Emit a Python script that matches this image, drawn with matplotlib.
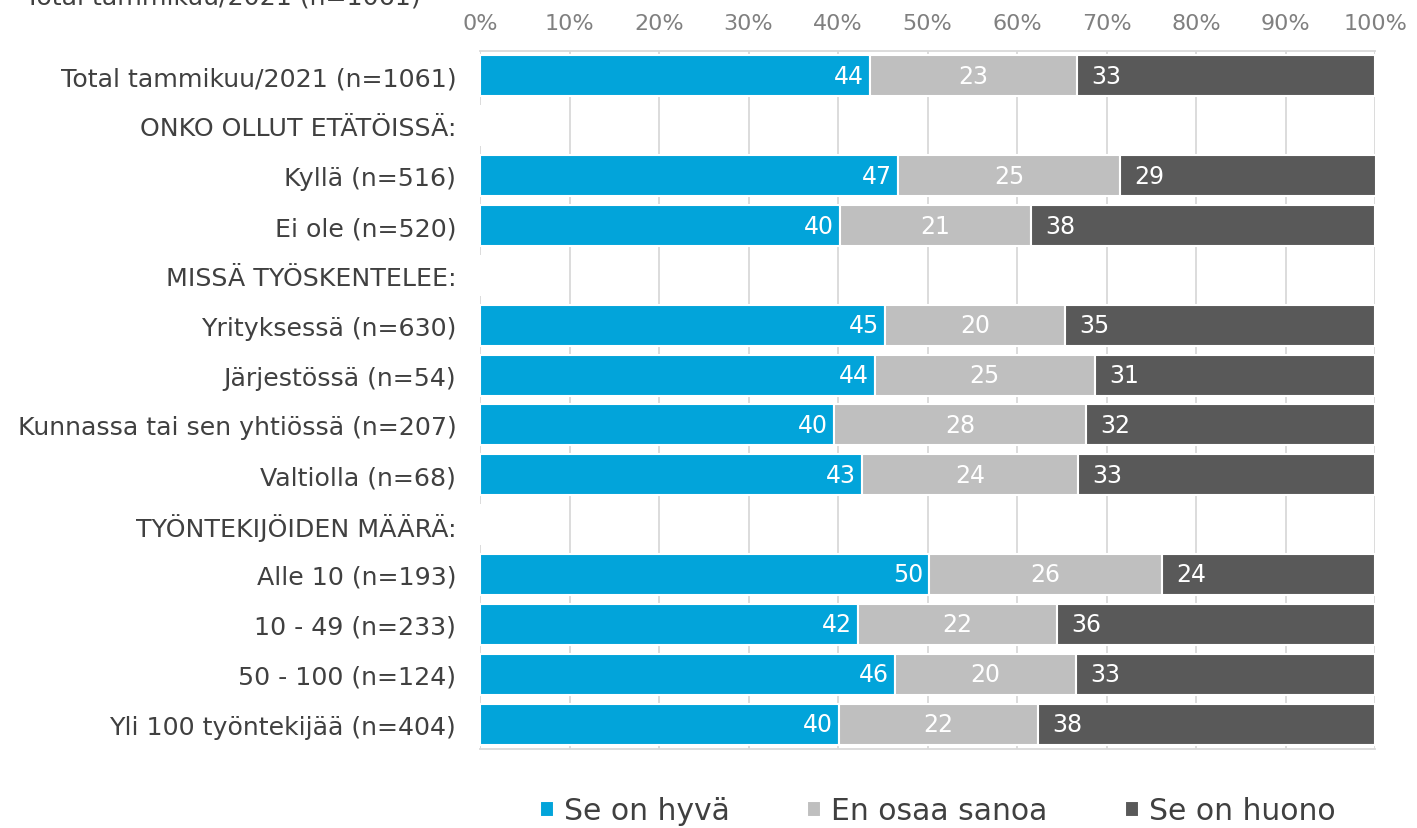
import matplotlib
matplotlib.use("Agg")
import matplotlib.pyplot as plt
import numpy as np

categories = [
    "Total tammikuu/2021 (n=1061)",
    "ONKO OLLUT ETÄTÖISSÄ:",
    "Kyllä (n=516)",
    "Ei ole (n=520)",
    "MISSÄ TYÖSKENTELEE:",
    "Yrityksessä (n=630)",
    "Järjestössä (n=54)",
    "Kunnassa tai sen yhtiössä (n=207)",
    "Valtiolla (n=68)",
    "TYÖNTEKIJÖIDEN MÄÄRÄ:",
    "Alle 10 (n=193)",
    "10 - 49 (n=233)",
    "50 - 100 (n=124)",
    "Yli 100 työntekijää (n=404)",
]
series_names = ["Se on hyvä", "En osaa sanoa", "Se on huono"]
nan = np.nan
hyva = [43.6, nan, 46.7, 40.2, nan, 45.3, 44.1, 39.6, 42.7, nan, 50.2, 42.2, 46.4, 40.1]
eos = [23.1, nan, 24.8, 21.4, nan, 20.1, 24.6, 28.1, 24.1, nan, 26.0, 22.3, 20.2, 22.2]
huono = [33.3, nan, 28.6, 38.4, nan, 34.6, 31.3, 32.3, 33.2, nan, 23.8, 35.5, 33.4, 37.7]
title_text = "Total tammikuu/2021 (n=1061)"

colors = ["#02A4DA", "#BFBFBF", "#595959"]
text_dark = "#404040"

fig = plt.figure(figsize=(14.17, 8.29), dpi=100)
ax = fig.add_axes([480 / 1417, 1 - 750 / 829, (1375 - 480) / 1417, (750 - 52) / 829])

n = len(categories)
y = np.arange(n)
vals = [np.array(hyva), np.array(eos), np.array(huono)]
left = np.zeros(n)
for i, (v, c, name) in enumerate(zip(vals, colors, series_names)):
    vv = np.nan_to_num(v)
    ax.barh(y, vv, left=left, height=0.82, color=c, edgecolor="white",
            linewidth=1.5, label=name, zorder=3)
    for j in range(n):
        if np.isnan(v[j]):
            continue
        lab = f"{round(v[j]):d}"
        if i == 0:
            ax.text(left[j] + vv[j] - 0.7, y[j], lab, ha="right", va="center",
                    color="white", fontsize=17, zorder=4)
        elif i == 1:
            ax.text(left[j] + vv[j] / 2, y[j], lab, ha="center", va="center",
                    color="white", fontsize=17, zorder=4)
        else:
            ax.text(left[j] + 1.6, y[j], lab, ha="left", va="center",
                    color="white", fontsize=17, zorder=4)
    left = left + vv

ax.set_xlim(0, 100)
ax.set_ylim(n - 0.5, -0.5)
ax.set_yticks(y)
ax.set_yticklabels(categories, fontsize=18.2, color=text_dark)
ax.tick_params(axis="y", length=0, pad=17)
ax.xaxis.tick_top()
ax.set_xticks(np.arange(0, 101, 10))
ax.set_xticklabels([f"{t}%" for t in range(0, 101, 10)], fontsize=16, color="#808080")
ax.tick_params(axis="x", length=0, pad=13)
ax.grid(axis="x", color="#D9D9D9", linewidth=1.3, zorder=0)
for s in ["left", "right"]:
    ax.spines[s].set_visible(False)
for s in ["top", "bottom"]:
    ax.spines[s].set_color("#D9D9D9")
    ax.spines[s].set_linewidth(1.3)

leg = fig.legend(loc="center", bbox_to_anchor=(938 / 1417, 1 - 812 / 829), ncol=3,
                 frameon=False, fontsize=21.5, handlelength=0.45, handleheight=0.45,
                 handletextpad=0.35, columnspacing=2.6, labelcolor=text_dark)

fig.text(25 / 1417, 1 - 4 / 829, title_text, fontsize=18.2, color=text_dark,
         ha="left", va="baseline")

fig.savefig("out.png", dpi=100)
